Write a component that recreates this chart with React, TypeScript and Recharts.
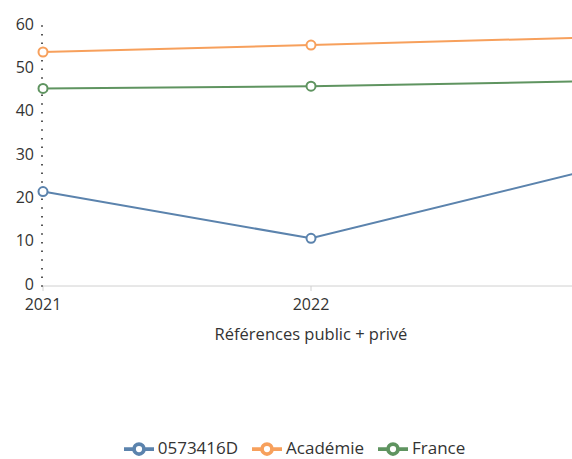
import React from 'react';
import { LineChart, Line, XAxis, YAxis, Legend } from 'recharts';

const years = ['2021', '2022', '2023'];
const etab = [21.8, 11.0, 26.2];
const academie = [54.0, 55.6, 57.3];
const france = [45.6, 46.1, 47.2];
const yTicks = [0, 2, 4, 6, 8, 10, 12, 14, 16, 18, 20, 22, 24, 26, 28, 30, 32, 34, 36, 38, 40, 42, 44, 46, 48, 50, 52, 54, 56, 58, 60];

const COLORS = { etab: '#5b83ad', academie: '#f7a05c', france: '#5f9460' };

const data = years.map((y, i) => ({ year: y, etab: etab[i], academie: academie[i], france: france[i] }));

const dot = (color: string) => ({ r: 4.5, stroke: color, strokeWidth: 2, fill: '#fff' });

export default function App() {
  return (
    <div style={{ position: 'absolute', left: 0, top: 0, width: 572, height: 459, overflow: 'hidden', background: '#fff' }}>
      <LineChart
        width={590}
        height={459}
        data={data}
        margin={{ top: 26, right: 11, left: 0, bottom: 0 }}
        style={{ fontFamily: '"Open Sans", sans-serif' }}
      >
        <XAxis
          dataKey="year"
          stroke="#d0d0d0"
          tick={{ fill: '#333', fontSize: 16 }}
          tickSize={5}
          tickMargin={8}
          height={143}
          tickFormatter={(v: string) => (v === '2023' ? '' : v)}
          label={{ value: 'Références public + privé', position: 'insideTop', offset: 42, fill: '#333', fontSize: 16.5 }}
        />
        <YAxis
          domain={[0, 60]}
          ticks={yTicks}
          interval={0}
          width={43}
          axisLine={false}
          tickSize={2}
          tickMargin={7}
          tickLine={{ stroke: '#555', strokeWidth: 1.5 }}
          tick={{ fill: '#333', fontSize: 16, dy: -2 }}
          tickFormatter={(v: number) => (v % 10 === 0 ? String(v) : '')}
        />
        <Legend
          verticalAlign="bottom"
          iconSize={30}
          wrapperStyle={{ fontSize: 17, left: 12, top: 434 }}
          formatter={(value: string) => <span style={{ color: '#333', marginRight: 4 }}>{value}</span>}
        />
        <Line dataKey="etab" name="0573416D" stroke={COLORS.etab} strokeWidth={2} dot={dot(COLORS.etab)} isAnimationActive={false} />
        <Line dataKey="academie" name="Académie" stroke={COLORS.academie} strokeWidth={2} dot={dot(COLORS.academie)} isAnimationActive={false} />
        <Line dataKey="france" name="France" stroke={COLORS.france} strokeWidth={2} dot={dot(COLORS.france)} isAnimationActive={false} />
      </LineChart>
    </div>
  );
}
